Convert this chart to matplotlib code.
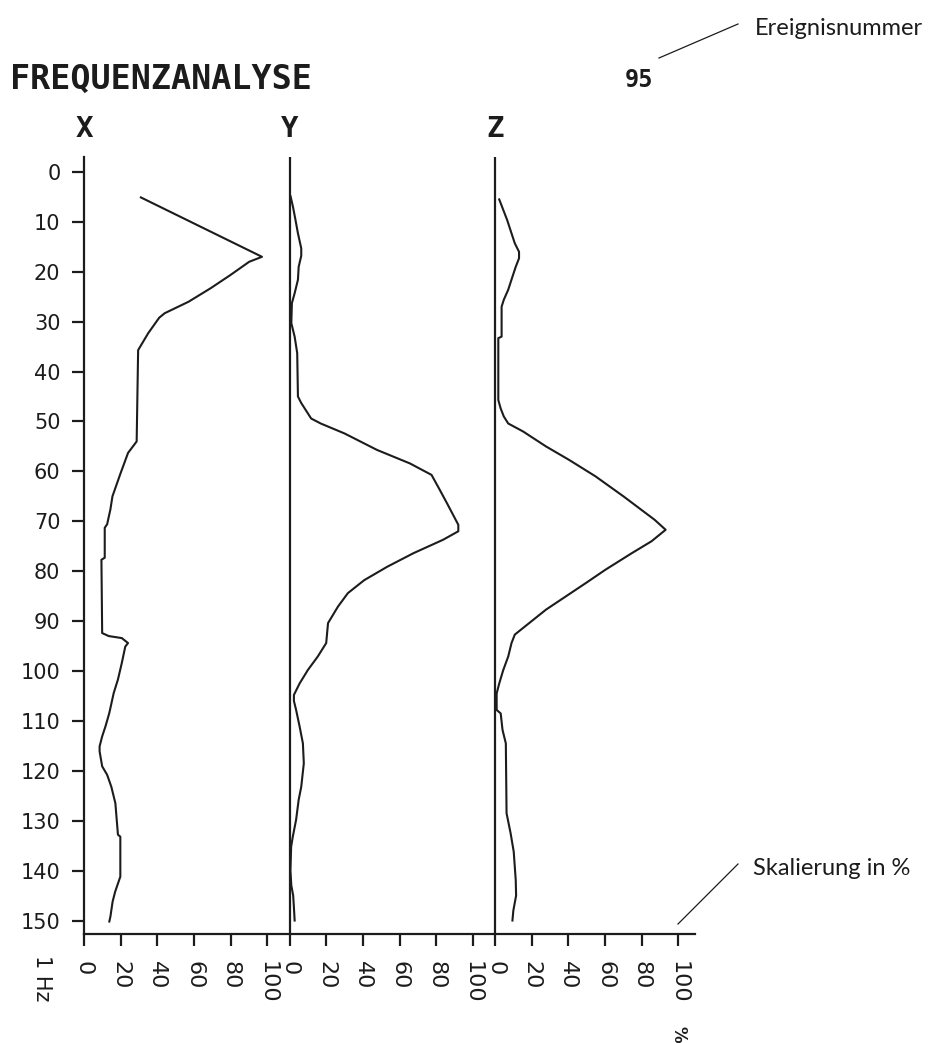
import matplotlib.pyplot as plt
from matplotlib.lines import Line2D

# frequency (Hz) / level (%)
x_hz = [5.1, 17, 18, 20.6, 23.3, 26, 28.3, 29.2, 32.3, 35.7, 54, 56.3, 60.3, 65,
        67.6, 70.6, 71.3, 77.3, 77.7, 92.4, 93, 93.4, 94.4, 95.1, 98.4, 101.7,
        104.4, 108.4, 111.1, 113.1, 115.1, 116.1, 119.1, 120.8, 123.2, 126.5,
        132.8, 133.2, 141.2, 144.2, 146.2, 149.2, 150.2]
x_pct = [31, 97, 90, 80, 69, 57, 44, 41, 35, 29.5, 28.7, 24, 20, 15.5,
         14.4, 12.6, 11.3, 11.3, 9.5, 9.9, 13.5, 20.6, 24, 22.5, 20.6, 18.5,
         16.2, 13.8, 11.7, 9.9, 8.5, 8.5, 9.9, 12.6, 14.9, 17.1,
         18.5, 19.8, 19.8, 17, 15.6, 14.4, 13.8]

y_hz = [4.9, 7, 9.3, 12.3, 15.3, 16.8, 19, 21.6, 24.3, 26.3, 30.3, 33, 36.3, 45,
        46.3, 49.4, 50.4, 52.4, 55.7, 58.4, 60.7, 63.7, 66.5, 70.7, 72, 73.7,
        76.4, 79.1, 81.8, 84.4, 87.1, 90.4, 94.4, 97.1, 99.8, 102.5, 104.8, 106,
        107.8, 111.1, 114.5, 118.5, 123.2, 125.8, 129.8, 133.2, 135.2, 140, 143,
        145, 148, 150]
y_pct = [0.6, 1.9, 3.1, 4.6, 6.4, 6.4, 5, 4.6, 2.8, 1.3, 1, 2.8, 4.2, 4.6,
         6.4, 11.8, 17, 30, 47.7, 65.6, 77.4, 81.9, 86, 92, 92, 83.7,
         67.5, 53.3, 40.7, 31.8, 26.4, 21, 20, 15.4, 10, 5.5, 2.4, 2.4,
         3.6, 5.5, 7.3, 7.8, 6.4, 5, 3.6, 1.8, 0.9, 0.5, 1,
         2, 2.5, 2.8]

z_hz = [5.5, 7.6, 9.6, 12.3, 14.3, 16, 17.3, 19, 21, 23.6, 25.6, 27, 33, 33.3,
        45.7, 47.4, 49, 50.4, 52, 55, 57.7, 61, 65, 69.7, 71.7, 74, 76.4, 79.7,
        82.4, 87.7, 92.7, 94.4, 97.1, 99.8, 102.5, 104.5, 107.8, 108.5, 111.8,
        114.5, 128.5, 132.5, 136.2, 141.9, 145, 148, 150]
z_pct = [2.3, 4.5, 6.6, 9, 10.8, 13.1, 13.1, 11.3, 9.5, 7.2, 4.8, 3.6, 3.6, 1.8,
         1.8, 3.1, 4.8, 7.2, 15.3, 27.8, 40.4, 54.8, 70, 87, 93, 85.3, 74.5, 60.2,
         49.4, 27.8, 10.8, 9, 7.2, 4.5, 2.3, 0.9, 0.9, 3.1, 4.1,
         5.9, 6.3, 8.5, 10.2, 11.3, 11.5, 10, 9.5]

panel_names = ["X", "Y", "Z"]
hz_ticks = list(range(0, 151, 10))
pct_ticks = [0, 20, 40, 60, 80, 100]

INK = "#1c1c1c"
OFFSET = 112  # each panel is shifted by this many percent

fig = plt.figure(figsize=(9.37, 10.43), dpi=100)
W, H = 937, 1043

ax = fig.add_axes([84 / W, (H - 934) / H, (695 - 84) / W, (934 - 157) / H])
ax.set_xlim(0, 333)
ax.set_ylim(152.7, -3)

for s in ["top", "right"]:
    ax.spines[s].set_visible(False)
for s in ["left", "bottom"]:
    ax.spines[s].set_linewidth(1.6)
    ax.spines[s].set_color(INK)

series = [(x_hz, x_pct), (y_hz, y_pct), (z_hz, z_pct)]
for i, (name, (hz, pct)) in enumerate(zip(panel_names, series)):
    off = i * OFFSET
    if i > 0:
        ax.axvline(off, color=INK, lw=1.6)
    ax.plot([off + p for p in pct], hz, color=INK, lw=1.5)
    ax.text(off, -8.6, name, ha="center", va="center", fontsize=21,
            family="DejaVu Sans Mono", weight="bold", color=INK)

xt = [i * OFFSET + v for i in range(3) for v in pct_ticks]
ax.set_xticks(xt)
ax.set_xticklabels([str(v) for _ in range(3) for v in pct_ticks])
ax.set_yticks(hz_ticks)
ax.set_yticklabels([str(v) for v in hz_ticks])
ax.tick_params(axis="x", direction="out", length=8.6, width=1.6, pad=11,
               labelrotation=270, labelsize=16, colors=INK)
ax.tick_params(axis="y", direction="out", length=9, width=1.6, pad=8,
               labelsize=15, colors=INK)

fig.text(10 / W, 1 - 79 / H, "FREQUENZANALYSE", ha="left", va="center",
         fontsize=24, family="DejaVu Sans Mono", weight="bold", color=INK)
fig.text(639 / W, 1 - 80 / H, "95", ha="center", va="center",
         fontsize=17, family="DejaVu Sans Mono", weight="bold", color=INK)

fig.text(42 / W, 1 - 955 / H, "1 Hz", rotation=270, ha="center", va="top",
         fontsize=15, color=INK)
fig.text(679 / W, 1 - 1026 / H, "%", rotation=270, ha="center", va="top",
         fontsize=12, weight="bold", color=INK)

# callouts
fig.add_artist(Line2D([659 / W, 738 / W], [1 - 58 / H, 1 - 24 / H],
                      transform=fig.transFigure, lw=0.9, color=INK))
fig.text(755 / W, 1 - 35 / H, "Ereignisnummer", ha="left", va="baseline",
         fontsize=17, family="Lato", color=INK)
fig.add_artist(Line2D([678 / W, 738 / W], [1 - 924 / H, 1 - 864 / H],
                      transform=fig.transFigure, lw=0.9, color=INK))
fig.text(753 / W, 1 - 875 / H, "Skalierung in %", ha="left", va="baseline",
         fontsize=17, family="Lato", color=INK)

fig.savefig("out.png", dpi=100, facecolor="white")
